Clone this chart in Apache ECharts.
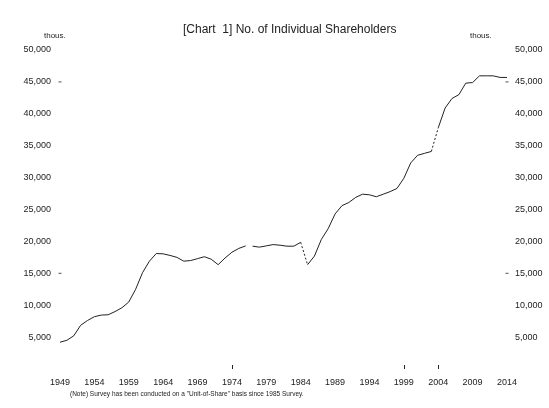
<!DOCTYPE html>
<html>
<head>
<meta charset="utf-8">
<script src="https://cdn.jsdelivr.net/npm/echarts@6/dist/echarts.min.js"></script>
<style>
  html, body { margin: 0; padding: 0; background: #fff; }
  #chart { width: 549px; height: 408px; }
</style>
</head>
<body>
<div id="chart"></div>
<script>
// Survey years (category axis)
var years = [
  '1949','1950','1951','1952','1953','1954','1955','1956','1957','1958',
  '1959','1960','1961','1962','1963','1964','1965','1966','1967','1968',
  '1969','1970','1971','1972','1973','1974','1975','1976','1977','1978',
  '1979','1980','1981','1982','1983','1984','1985','1986','1987','1988',
  '1989','1990','1991','1992','1993','1994','1995','1996','1997','1998',
  '1999','2000','2001','2002','2003','2004','2005','2006','2007','2008',
  '2009','2010','2011','2012','2013','2014'
];

// Number of individual shareholders, thousands
var shareholders = [
  4200, 4500, 5200, 6850, 7600, 8200, 8450, 8500, 9000, 9600,
  10500, 12500, 15100, 16900, 18100, 18050, 17800, 17500, 16900, 17000,
  17300, 17600, 17200, 16350, 17400, 18300, 18900, 19300, 19250, 19100,
  19300, 19500, 19400, 19250, 19250, 19850, 16350, 17700, 20300, 22000,
  24300, 25600, 26100, 26900, 27400, 27300, 27000, 27400, 27800, 28300,
  29900, 32300, 33500, 33800, 34100, 37800, 40900, 42400, 43000, 44800,
  44900, 45950, 45950, 45950, 45700, 45700
];

// Continuous runs of comparable survey data
var solidRuns = [['1949', '1976'], ['1977', '1984'], ['1985', '2003'], ['2004', '2014']];
// Links across changes in survey basis
var dashedLinks = [['1984', '1985'], ['2003', '2004']];
// Years flagged with a tick on the horizontal axis
var tickYears = ['1974', '1999', '2004'];
// Small reference dashes beside the value axes
var refDashes = [['1949', 45000], ['1949', 15000], ['2014', 45000], ['2014', 15000]];

var yTicks = { min: 0, max: 50000, interval: 5000 };

function slice(run) {
  var a = years.indexOf(run[0]), b = years.indexOf(run[1]);
  return shareholders.map(function (v, i) { return (i >= a && i <= b) ? v : null; });
}

var font = 'Liberation Sans, Arial, sans-serif';
var ink = '#222';

var series = [];
solidRuns.forEach(function (r) {
  series.push({
    type: 'line', data: slice(r), symbol: 'none', connectNulls: false,
    lineStyle: { color: ink, width: 1 }, silent: true, animation: false
  });
});
dashedLinks.forEach(function (r) {
  series.push({
    type: 'line', data: slice(r), symbol: 'none', connectNulls: false,
    lineStyle: { color: ink, width: 1, type: [2, 2] }, silent: true, animation: false
  });
});
series.push({
  type: 'scatter', data: refDashes, symbol: 'rect', symbolSize: [3, 1],
  itemStyle: { color: ink }, silent: true, animation: false
});

function fmt(v) {
  return v === 0 ? '' : v.toLocaleString('en-US');
}

var chart = echarts.init(document.getElementById('chart'), null, { renderer: 'canvas' });
chart.setOption({
  backgroundColor: '#fff',
  animation: false,
  title: {
    text: '[Chart  1] No. of Individual Shareholders',
    left: 178, top: 19,
    textStyle: { fontFamily: font, fontSize: 12, fontWeight: 'normal', color: ink }
  },
  grid: { left: 60, right: 42, top: 50, bottom: 39 },
  xAxis: {
    type: 'category', data: years, boundaryGap: false,
    axisLine: { show: false },
    axisTick: {
      show: true, inside: true, length: 4,
      interval: function (i, v) { return tickYears.indexOf(v) >= 0; },
      lineStyle: { color: ink, width: 1 }
    },
    axisLabel: { interval: 4, margin: 9, fontFamily: font, fontSize: 9, color: ink },
    splitLine: { show: false }
  },
  yAxis: [
    {
      type: 'value', position: 'left', min: yTicks.min, max: yTicks.max, interval: yTicks.interval,
      axisLine: { show: false }, axisTick: { show: false }, splitLine: { show: false },
      axisLabel: { margin: 9, fontFamily: font, fontSize: 9, color: ink, formatter: fmt }
    },
    {
      type: 'value', position: 'right', min: yTicks.min, max: yTicks.max, interval: yTicks.interval,
      axisLine: { show: false }, axisTick: { show: false }, splitLine: { show: false },
      axisLabel: { margin: 8, fontFamily: font, fontSize: 9, color: ink, formatter: fmt }
    }
  ],
  graphic: [
    { type: 'text', left: 44, top: 32, style: { text: 'thous.', font: '8px ' + font, fill: ink } },
    { type: 'text', left: 470, top: 32, style: { text: 'thous.', font: '8px ' + font, fill: ink } },
    { type: 'text', left: 70, top: 391,
      style: { text: '(Note) Survey has been conducted on a "Unit-of-Share" basis since 1985 Survey.',
               font: '6.5px ' + font, fill: ink } }
  ],
  series: series
});
</script>
</body>
</html>
